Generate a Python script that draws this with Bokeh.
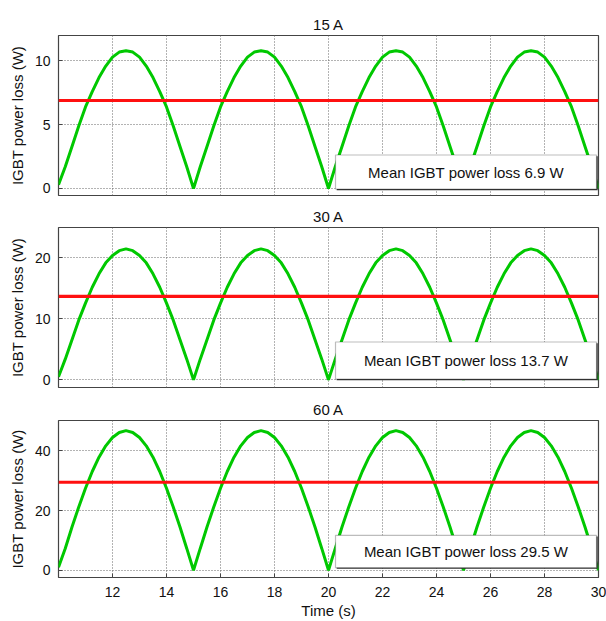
import numpy as np
from bokeh.plotting import figure
from bokeh.layouts import column
from bokeh.models import FixedTicker, BoxAnnotation, Label, Range1d
from bokeh.embed import file_html
from bokeh.resources import INLINE

# ---- data ----
titles = ["15 A", "30 A", "60 A"]
mean_loss = [6.9, 13.7, 29.5]
legend_texts = ["Mean IGBT power loss 6.9 W",
                "Mean IGBT power loss 13.7 W",
                "Mean IGBT power loss 29.5 W"]
time_s = np.linspace(10, 30, 81)

loss_15A = [0.3, 1.7, 3.3, 4.9, 6.4, 7.6, 8.7, 9.6, 10.3, 10.7, 10.8, 10.7, 10.3, 9.6, 8.7, 7.6, 6.4, 4.9, 3.3, 1.7, 0.0,
            1.7, 3.3, 4.9, 6.4, 7.6, 8.7, 9.6, 10.3, 10.7, 10.8, 10.7, 10.3, 9.6, 8.7, 7.6, 6.4, 4.9, 3.3, 1.7, 0.0,
            1.7, 3.3, 4.9, 6.4, 7.6, 8.7, 9.6, 10.3, 10.7, 10.8, 10.7, 10.3, 9.6, 8.7, 7.6, 6.4, 4.9, 3.3, 1.7, 0.0,
            1.7, 3.3, 4.9, 6.4, 7.6, 8.7, 9.6, 10.3, 10.7, 10.8, 10.7, 10.3, 9.6, 8.7, 7.6, 6.4, 4.9, 3.3, 1.7, 0.0]
loss_30A = [0.5, 3.4, 6.6, 9.8, 12.6, 15.2, 17.4, 19.2, 20.4, 21.2, 21.5, 21.2, 20.4, 19.2, 17.4, 15.2, 12.6, 9.8, 6.6, 3.4, 0.0,
            3.4, 6.6, 9.8, 12.6, 15.2, 17.4, 19.2, 20.4, 21.2, 21.5, 21.2, 20.4, 19.2, 17.4, 15.2, 12.6, 9.8, 6.6, 3.4, 0.0,
            3.4, 6.6, 9.8, 12.6, 15.2, 17.4, 19.2, 20.4, 21.2, 21.5, 21.2, 20.4, 19.2, 17.4, 15.2, 12.6, 9.8, 6.6, 3.4, 0.0,
            3.4, 6.6, 9.8, 12.6, 15.2, 17.4, 19.2, 20.4, 21.2, 21.5, 21.2, 20.4, 19.2, 17.4, 15.2, 12.6, 9.8, 6.6, 3.4, 0.0]
loss_60A = [1.0, 7.3, 14.5, 21.2, 27.5, 33.1, 37.9, 41.7, 44.5, 46.2, 46.8, 46.2, 44.5, 41.7, 37.9, 33.1, 27.5, 21.2, 14.5, 7.3, 0.0,
            7.3, 14.5, 21.2, 27.5, 33.1, 37.9, 41.7, 44.5, 46.2, 46.8, 46.2, 44.5, 41.7, 37.9, 33.1, 27.5, 21.2, 14.5, 7.3, 0.0,
            7.3, 14.5, 21.2, 27.5, 33.1, 37.9, 41.7, 44.5, 46.2, 46.8, 46.2, 44.5, 41.7, 37.9, 33.1, 27.5, 21.2, 14.5, 7.3, 0.0,
            7.3, 14.5, 21.2, 27.5, 33.1, 37.9, 41.7, 44.5, 46.2, 46.8, 46.2, 44.5, 41.7, 37.9, 33.1, 27.5, 21.2, 14.5, 7.3, 0.0]
series = [loss_15A, loss_30A, loss_60A]
y_ranges = [(-0.55, 12.0), (-1.25, 25.0), (-2.45, 50.2)]
y_ticks = [[0, 5, 10], [0, 10, 20], [0, 20, 40]]
x_ticks = [12, 14, 16, 18, 20, 22, 24, 26, 28, 30]
x_label = "Time (s)"
y_label = "IGBT power loss (W)"

FONT = "Liberation Sans"
FRAME_W, FRAME_H = 540, 160
borders = [(35, 2), (30, 2), (31, 41)]
box_lift = [6.5, 8.5, 10.0]    # px above frame bottom
box_height = [34, 37, 33]      # px

figs = []
for i in range(3):
    top_b, bot_b = borders[i]
    ymin, ymax = y_ranges[i]
    p = figure(width=606, height=top_b + FRAME_H + bot_b,
               x_range=Range1d(10, 30), y_range=Range1d(ymin, ymax),
               output_backend="svg", toolbar_location=None,
               min_border_left=58, min_border_right=8,
               min_border_top=top_b, min_border_bottom=bot_b,
               title=titles[i])
    p.title.align = "center"
    p.title.text_font = FONT
    p.title.text_font_size = "15px"
    p.title.text_font_style = "normal"
    p.title.text_color = "#111111"
    p.title.standoff = 6

    p.outline_line_color = "#444444"
    p.outline_line_width = 1.2
    p.background_fill_color = "white"
    p.border_fill_color = "white"

    p.xaxis.ticker = FixedTicker(ticks=x_ticks)
    p.yaxis.ticker = FixedTicker(ticks=y_ticks[i])
    for ax in (p.xaxis[0], p.yaxis[0]):
        ax.axis_line_color = None
        ax.major_tick_in = 4
        ax.major_tick_out = 0
        ax.major_tick_line_color = "#444444"
        ax.minor_tick_line_color = None
        ax.major_label_text_font = FONT
        ax.major_label_text_font_size = "14px"
        ax.major_label_text_color = "#111111"
        ax.axis_label_text_font = FONT
        ax.axis_label_text_font_size = "15px"
        ax.axis_label_text_font_style = "normal"
        ax.axis_label_text_color = "#111111"
    p.yaxis.axis_label = y_label
    p.yaxis.major_label_standoff = 8
    p.yaxis.axis_label_standoff = 6
    if i < 2:
        p.xaxis.visible = False
    else:
        p.xaxis.axis_label = x_label
        p.xaxis.major_label_standoff = 9
        p.xaxis.axis_label_standoff = 2

    for g in (p.xgrid[0], p.ygrid[0]):
        g.grid_line_color = "#666666"
        g.grid_line_dash = "1 2"
        g.grid_line_width = 1

    p.line(time_s, series[i], line_color="#00c800", line_width=3)
    p.line([10, 30], [mean_loss[i], mean_loss[i]], line_color="#ff1010", line_width=3.2)

    # legend-like box in lower right
    ppu = FRAME_H / (ymax - ymin)
    ppx = FRAME_W / 20.0
    left = 10 + 277 / ppx
    right = 30 - 2 / ppx
    bottom = ymin + box_lift[i] / ppu
    top = bottom + box_height[i] / ppu
    p.add_layout(BoxAnnotation(left=left + 1.2 / ppx, right=right + 1.2 / ppx,
                               bottom=bottom - 1.2 / ppu, top=top - 1.2 / ppu,
                               fill_color="#333333", fill_alpha=1.0, line_color=None))
    p.add_layout(BoxAnnotation(left=left, right=right, bottom=bottom, top=top,
                               fill_color="white", fill_alpha=1.0,
                               line_color="#222222", line_width=1.2))
    p.add_layout(Label(x=(left + right) / 2, y=(bottom + top) / 2,
                       text=legend_texts[i], text_align="center",
                       text_baseline="middle", text_font=FONT,
                       text_font_size="15px", text_color="#111111"))
    figs.append(p)

layout = column(*figs, spacing=0)
open("out.html", "w").write(file_html(layout, INLINE))
